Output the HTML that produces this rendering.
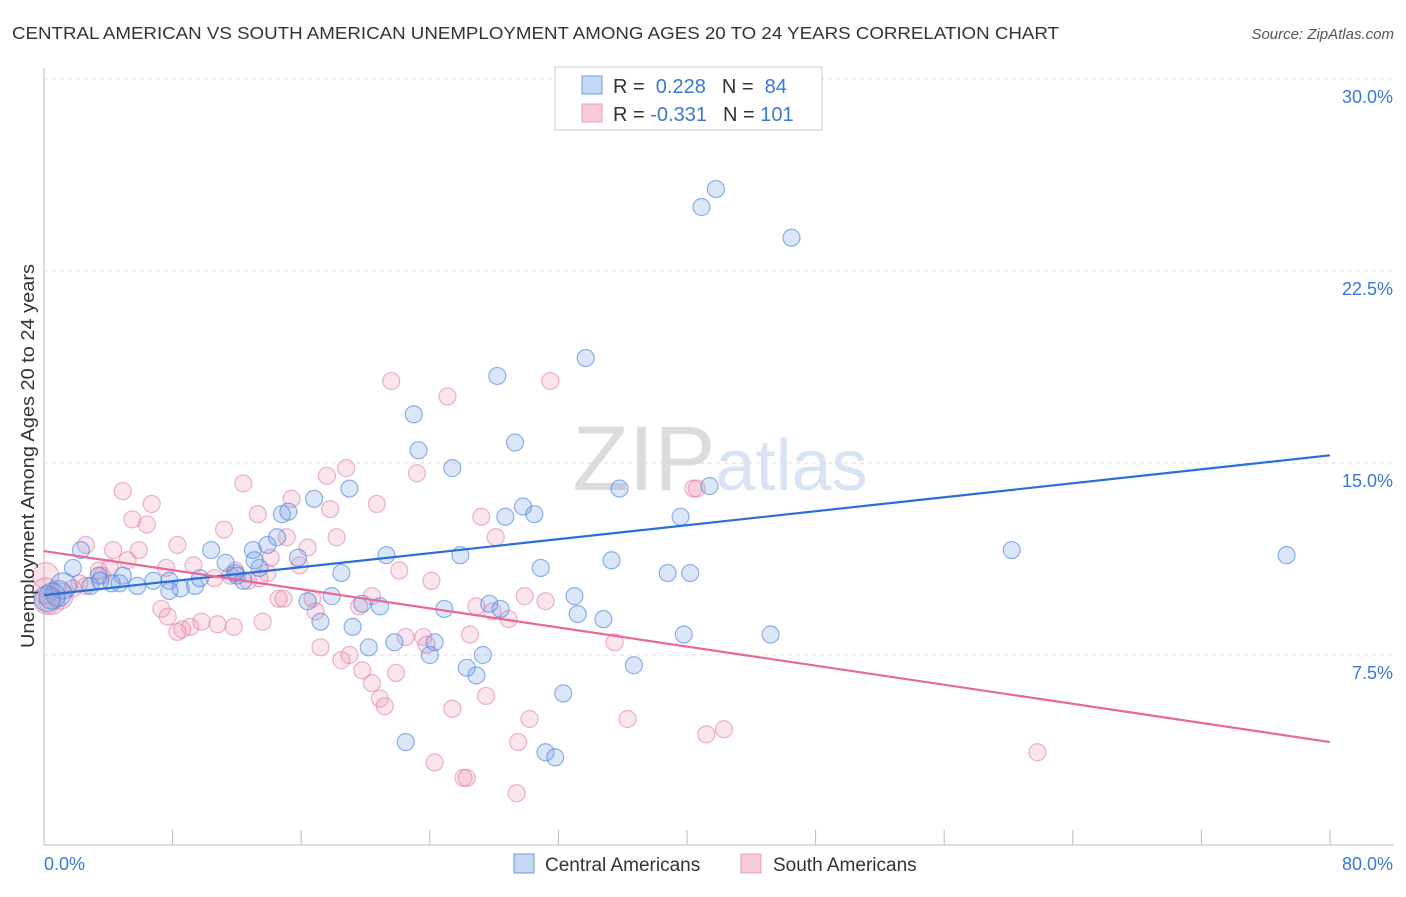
<!DOCTYPE html>
<html><head><meta charset="utf-8"><style>
body{margin:0;background:#fff;font-family:"Liberation Sans",sans-serif;}
svg text{font-family:"Liberation Sans",sans-serif;}
</style></head><body>
<svg id="chart" width="1406" height="892" viewBox="0 0 1406 892" xmlns="http://www.w3.org/2000/svg">
<text x="12" y="39" font-size="17.5" fill="#333" textLength="1047" lengthAdjust="spacingAndGlyphs">CENTRAL AMERICAN VS SOUTH AMERICAN UNEMPLOYMENT AMONG AGES 20 TO 24 YEARS CORRELATION CHART</text>
<text x="1394" y="39" font-size="15" fill="#555" font-style="italic" text-anchor="end">Source: ZipAtlas.com</text>
<g id="grid"></g>
<text x="720" y="490" font-size="92" text-anchor="middle" fill="#e4e4e4" font-family="Liberation Serif"><tspan fill="#dcdcdc">ZIP</tspan><tspan fill="#d8e4f4" font-family="Liberation Sans" font-size="72">atlas</tspan></text>
<g id="marks"></g>
<text transform="translate(34,456) rotate(-90)" font-size="18" fill="#333" text-anchor="middle" textLength="384" lengthAdjust="spacingAndGlyphs">Unemployment Among Ages 20 to 24 years</text>
<g>
<rect x="555" y="67" width="267" height="63" fill="#fff" stroke="#ccc"/>
<rect x="582" y="76" width="20" height="18" fill="#c5d9f5" stroke="#6c9be0"/>
<rect x="582" y="104" width="20" height="18" fill="#f9cad9" stroke="#e8a0ba"/>
<text x="613" y="93" font-size="20" fill="#333">R = <tspan fill="#3a78d6">&#160;0.228</tspan><tspan dx="16">N = </tspan><tspan fill="#3a78d6">&#160;84</tspan></text>
<text x="613" y="121" font-size="20" fill="#333">R = <tspan fill="#3a78d6">-0.331</tspan><tspan dx="16">N = </tspan><tspan fill="#3a78d6">101</tspan></text>
</g>
<g>
<rect x="514" y="854" width="20" height="19" fill="#c5d9f5" stroke="#6c9be0"/>
<text x="545" y="871" font-size="19" fill="#333">Central Americans</text>
<rect x="741" y="854" width="20" height="19" fill="#f9cad9" stroke="#e8a0ba"/>
<text x="773" y="871" font-size="19" fill="#333">South Americans</text>
</g>
</svg>
<script>
const xTicks=[0,10,20,30,40,50,60,70,80];
const yTicks=[7.5,15,22.5,30];
const yTickLabels=["7.5%","15.0%","22.5%","30.0%"];
const xEndLabels=["0.0%","80.0%"];
const centralX=[40.9,41.8,46.5,33.7,28.2,23.0,29.3,23.3,25.4,19.0,16.8,14.8,15.2,29.8,28.7,30.5,35.8,41.4,39.6,60.2,77.3,10.4,13.0,13.9,14.5,15.8,21.3,25.9,35.3,30.9,38.8,40.2,18.5,11.3,12.0,12.4,13.4,6.8,7.8,8.5,9.4,9.7,5.8,4.9,4.2,3.4,2.3,1.8,1.2,0.9,0.5,0.2,17.9,16.4,19.8,20.9,24.9,27.7,33.0,33.2,34.8,17.2,19.2,39.8,45.2,20.2,21.8,24.3,24.0,27.3,26.3,26.9,36.7,32.3,22.5,31.2,31.8,2.9,3.5,4.7,7.8,28.4,11.9,13.1];
const centralY=[25.0,25.7,23.8,19.1,18.4,16.9,15.8,15.5,14.8,14.0,13.6,13.0,13.1,13.3,12.9,13.0,14.0,14.1,12.9,11.6,11.4,11.6,11.6,11.8,12.1,11.3,11.4,11.4,11.2,10.9,10.7,10.7,10.7,11.1,10.6,10.4,10.9,10.4,10.4,10.1,10.2,10.5,10.2,10.6,10.3,10.6,11.6,10.9,10.2,9.9,9.8,9.7,9.8,9.6,9.5,9.4,9.3,9.5,9.8,9.1,8.9,8.8,8.6,8.3,8.3,7.8,8.0,8.0,7.5,7.5,7.0,6.7,7.1,6.0,4.1,3.7,3.5,10.2,10.4,10.3,10.0,9.3,10.7,11.2];
const southX=[34.5,21.6,31.5,25.1,23.2,18.8,17.6,15.4,17.8,20.7,12.4,6.7,4.9,5.5,6.4,11.2,13.3,15.1,18.2,16.4,28.1,27.2,40.4,40.6,2.6,4.3,5.9,8.3,7.6,9.3,10.6,11.9,12.7,13.9,14.1,15.9,22.1,24.1,4.1,5.2,3.6,2.2,1.8,1.0,0.5,0.1,2.6,7.3,7.7,8.6,9.1,9.8,10.8,11.8,13.6,14.6,14.9,16.7,16.9,19.6,20.4,22.5,23.6,23.8,26.5,26.9,27.9,28.9,29.9,31.2,35.5,17.2,18.5,19.8,20.4,20.9,21.2,21.9,25.4,27.5,30.2,36.3,41.2,42.3,29.5,24.3,26.1,26.3,29.4,61.8,0.1,0.2,3.4,8.3,13.4,19.0,11.6];
const southY=[28.6,18.2,18.2,17.6,14.6,14.8,14.5,13.6,13.2,13.4,14.2,13.4,13.9,12.8,12.6,12.4,13.0,12.1,12.1,11.7,12.1,12.9,14.0,14.0,11.8,11.6,11.6,11.8,10.9,11.0,10.5,10.8,10.4,10.7,11.3,11.0,10.8,10.4,10.9,11.2,10.6,10.3,10.1,9.8,9.6,10.6,10.2,9.3,9.0,8.5,8.6,8.8,8.7,8.6,8.8,9.7,9.7,9.7,9.2,9.4,9.8,8.2,8.2,7.9,8.3,9.4,9.2,8.9,9.8,9.6,8.0,7.8,7.3,6.9,6.4,5.8,5.5,6.8,5.4,5.9,5.0,5.0,4.4,4.6,4.1,3.3,2.7,2.7,2.1,3.7,10.0,9.6,10.8,8.4,10.5,7.5,10.6];
const centralTrend=[9.84,15.3];
const southTrend=[11.56,4.1];
const NS="http://www.w3.org/2000/svg";
const X0=44,X1=1330,Y0=847,YPX=25.6;
function sx(v){return X0+v/80*(X1-X0);}
function sy(v){return Y0-v*YPX;}
function mk(tag,attrs,parent){const e=document.createElementNS(NS,tag);for(const k in attrs)e.setAttribute(k,attrs[k]);parent.appendChild(e);return e;}
const grid=document.getElementById('grid');
const marks=document.getElementById('marks');
yTicks.forEach((t,i)=>{
  const l=mk('line',{x1:X0,x2:1394,y1:sy(t),y2:sy(t),stroke:'#ddd','stroke-dasharray':'4,4'},grid);
  
  
  const tx=mk('text',{x:1393,y:sy(t)+24,'font-size':18,fill:'#3a78d6','text-anchor':'end'},grid);
  tx.textContent=yTickLabels[i];
  
  
});
const ax=mk('line',{x1:X0,x2:1394,y1:845,y2:845,stroke:'#bbb'},grid);


const ay=mk('line',{x1:X0,x2:X0,y1:68,y2:845,stroke:'#bbb'},grid);


for(let v=0;v<=80;v+=8){
  const t=mk('line',{x1:sx(v),x2:sx(v),y1:830,y2:845,stroke:'#bbb'},grid);
  
  
}
const xl0=mk('text',{x:44,y:870,'font-size':18,fill:'#3a78d6'},grid);xl0.textContent=xEndLabels[0];


const xl1=mk('text',{x:1393,y:870,'font-size':18,fill:'#3a78d6','text-anchor':'end'},grid);xl1.textContent=xEndLabels[1];


function drawPts(xs,ys,fill,stroke,name){
  xs.forEach((x,i)=>{
    const r=x<1.5?13:8.5;
    const c=mk('circle',{cx:sx(x),cy:sy(ys[i]),r:r,fill:fill,stroke:stroke,'stroke-width':1.2},marks);
    
    
  });
}
drawPts(southX,southY,'rgba(240,150,180,0.25)','rgba(225,130,165,0.6)','south-american-point');
drawPts(centralX,centralY,'rgba(110,160,230,0.25)','rgba(70,130,220,0.6)','central-american-point');
const bl=mk('line',{x1:sx(0),y1:sy(centralTrend[0]),x2:sx(80),y2:sy(centralTrend[1]),stroke:'#2a6fd6','stroke-width':2.2},marks);


const pl=mk('line',{x1:sx(0),y1:sy(southTrend[0]),x2:sx(80),y2:sy(southTrend[1]),stroke:'#e8689a','stroke-width':2.2},marks);


</script>
</body></html>
